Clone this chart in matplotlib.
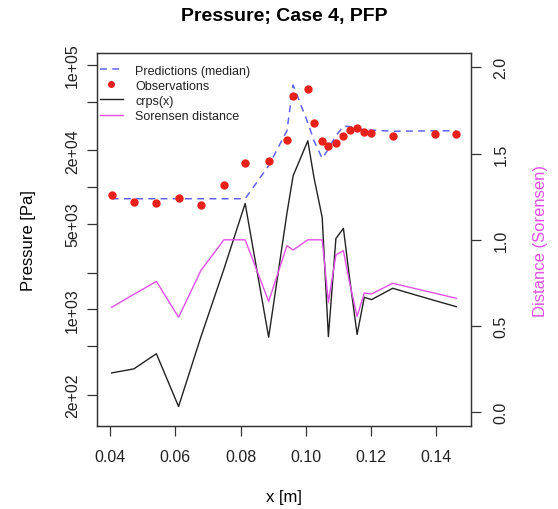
import matplotlib
matplotlib.use("Agg")
import matplotlib.pyplot as plt

plt.rcParams['font.family'] = ['Liberation Sans', 'DejaVu Sans']

# positions along the pipe [m]
x = [0.0405, 0.0473, 0.0542, 0.0610, 0.0678, 0.0749, 0.0814, 0.0886, 0.0942,
     0.0961, 0.1006, 0.1025, 0.1050, 0.1069, 0.1092, 0.1115, 0.1134, 0.1157,
     0.1179, 0.1201, 0.1266, 0.1396, 0.1461]

# pressure [Pa]
pred_median = [8035, 8035, 8035, 8035, 8035, 8035, 8035, 14960, 28910,
               68230, 33570, 23820, 17180, 20420, 26300, 31410, 31260, 30200,
               29440, 29240, 28580, 28840, 28840]
observed = [8620, 7550, 7370, 8100, 7180, 10340, 15820, 16260, 24270,
            55200, 63300, 33600, 23800, 21500, 23070, 26000, 29450, 30200,
            28350, 27680, 26150, 27170, 27170]
crps = [303, 327, 435, 161, 593, 2140, 7350, 593, 6120,
        12390, 23900, 11900, 5660, 600, 3800, 4600, 1800, 625,
        1258, 1203, 1490, 1180, 1054]

# Sorensen distance (right axis)
sorensen = [0.609, 0.684, 0.759, 0.551, 0.821, 1.0, 1.0, 0.643, 0.966,
            0.941, 1.0, 1.0, 1.0, 0.638, 0.912, 0.937, 0.75, 0.556,
            0.692, 0.686, 0.748, 0.69, 0.661]

left_ticks = [2e2, 5e2, 1e3, 2e3, 5e3, 1e4, 2e4, 5e4, 1e5]
left_labels = ["2e+02", "", "1e+03", "", "5e+03", "", "2e+04", "", "1e+05"]
right_ticks = [0.0, 0.5, 1.0, 1.5, 2.0]
x_ticks = [0.04, 0.06, 0.08, 0.10, 0.12, 0.14]

fig = plt.figure(figsize=(5.58, 5.10), dpi=100)
ax = fig.add_axes([97.3 / 558, 1 - 427.3 / 510, 373.4 / 558, 373.3 / 510])
ax2 = ax.twinx()

blue = "#6262f2"
red = "#e8201a"
magenta = "#e050e8"

ax.plot(x, pred_median, color=blue, lw=1.1, dashes=(4.5, 3.5),
        label="Predictions (median)")
ax.plot(x, observed, "o", color=red, ms=5, mec=red,
        label="Observations")
ax.plot(x, crps, color="#222222", lw=1.0, label="crps(x)")
ax2.plot(x, sorensen, color=magenta, lw=1.0, label="Sorensen distance")

ax.set_yscale("log")
ax.set_ylim(111, 124700)
ax.set_xlim(0.0361, 0.1505)
ax2.set_ylim(-0.081, 2.083)

ax.set_yticks(left_ticks)
ax.set_yticklabels(left_labels, rotation=90, va="center")
ax.yaxis.set_minor_locator(matplotlib.ticker.NullLocator())
ax.set_xticks(x_ticks)
ax.set_xticklabels(["%.2f" % v for v in x_ticks])
ax2.set_yticks(right_ticks)
ax2.set_yticklabels(["%.1f" % v for v in right_ticks], rotation=90, va="center")

ax.tick_params(axis="both", length=7.5, width=0.9, labelsize=11.5,
               colors="#333333", labelcolor="#222222")
ax.tick_params(axis="x", pad=9)
ax.tick_params(axis="y", pad=5)
ax2.tick_params(axis="y", length=7.5, width=0.9, labelsize=11.5, pad=9,
                colors="#333333", labelcolor="#222222")
for a in (ax, ax2):
    for s in a.spines.values():
        s.set_color("#333333")
        s.set_linewidth(0.9)

ax.set_xlabel("x [m]", fontsize=12)
ax.xaxis.set_label_coords(0.5, -0.189)
ax.xaxis.label.set_va("center")
ax.set_ylabel("Pressure [Pa]", fontsize=12)
ax.yaxis.set_label_coords(-0.184, 0.5)
ax.yaxis.label.set_va("center")
ax2.set_ylabel("Distance (Sorensen)", fontsize=12, color=magenta)
ax2.yaxis.set_label_coords(1.188, 0.5)
ax2.yaxis.label.set_va("center")
ax2.yaxis.label.set_rotation(90)

fig.text(284 / 558, 1 - 16 / 510, "Pressure; Case 4, PFP", ha="center",
         va="center", fontsize=14, fontweight="bold")

h1, l1 = ax.get_legend_handles_labels()
h2, l2 = ax2.get_legend_handles_labels()
leg = ax2.legend(h1 + h2, l1 + l2, loc="upper left", frameon=False, fontsize=9,
                 bbox_to_anchor=(0.0, 1 - 9 / 373.3), markerscale=0.8,
                 handlelength=1.85, handletextpad=1.0, labelspacing=0.25,
                 borderaxespad=0.0, borderpad=0.2)
for t in leg.get_texts():
    t.set_color("#222222")

fig.savefig("out.png", dpi=100)
